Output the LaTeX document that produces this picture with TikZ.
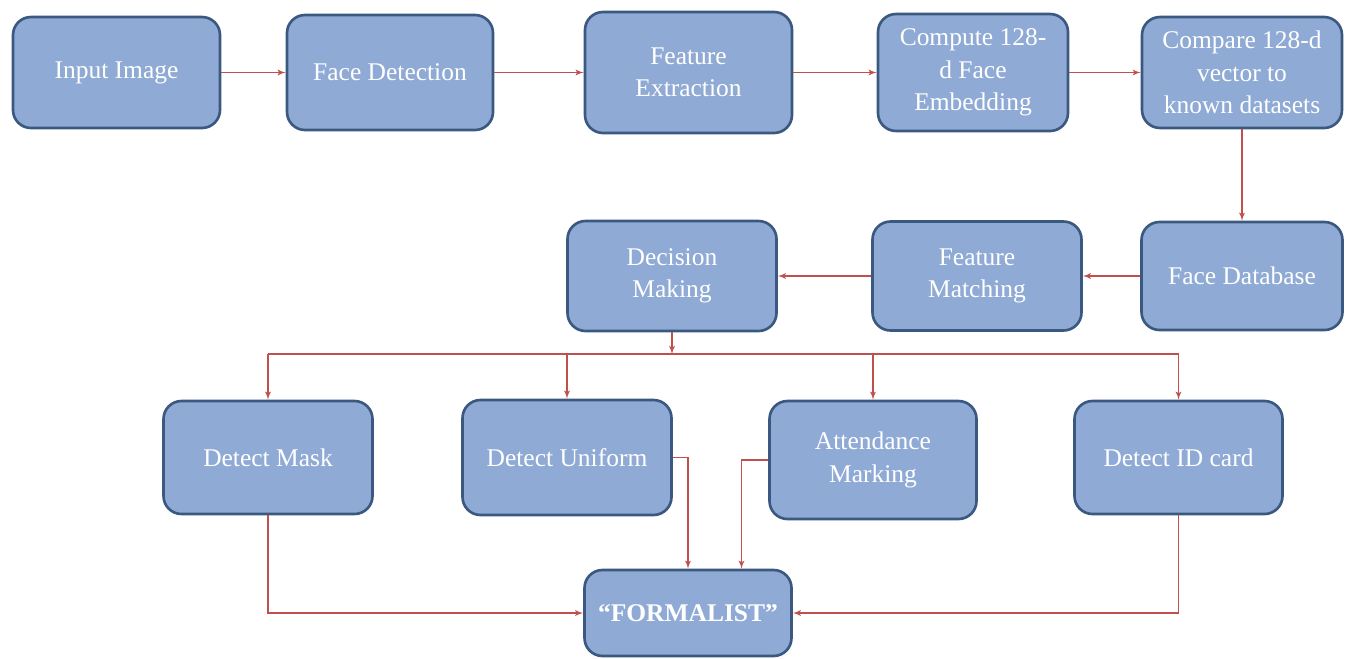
\documentclass[tikz,border=0pt]{standalone}
\usepackage{fontspec}
\setmainfont{Liberation Serif}
\usepackage{tikz}
\usetikzlibrary{shapes,arrows,calc}
\usetikzlibrary{positioning}
\definecolor{boxfill}{RGB}{143,170,212}
\definecolor{boxline}{RGB}{58,88,128}
\definecolor{flowred}{RGB}{192,80,77}

\begin{document}
\begin{tikzpicture}[auto, node distance=2cm,>=latex',font=\fontsize{14.5}{18.5}\selectfont]
\tikzset{block/.style = {draw=boxline, line width=1.5pt, fill=boxfill, rectangle,
  rounded corners=.36cm, text=white, align=center, inner sep=2pt}}
\tikzset{flow/.style = {draw=flowred, line width=.6pt, ->}}

  \useasboundingbox (-2.33,1.45) rectangle (24.63,-11.71);

  % top row
  \node[block, minimum width=4.14cm, minimum height=2.22cm] (input){Input Image};
  \node[block, minimum width=4.12cm, minimum height=2.3cm, node distance=5.47cm, right of=input]
    (facedet){Face Detection};
  \node[block, minimum width=4.14cm, minimum height=2.42cm, node distance=5.97cm, right of=facedet]
    (featext){Feature\\Extraction};
  \node[block, minimum width=3.8cm, minimum height=2.34cm, node distance=5.69cm, right of=featext]
    (embed){Compute 128-\\d Face\\Embedding};
  \node[block, minimum width=4.0cm, minimum height=2.22cm, node distance=5.38cm, right of=embed]
    (compare){Compare 128-d\\vector to\\known datasets};

  % middle row
  \node[block, minimum width=4.02cm, minimum height=2.16cm, node distance=4.07cm, below of=compare]
    (facedb){Face Database};
  \node[block, minimum width=4.18cm, minimum height=2.18cm, node distance=5.3cm, left of=facedb]
    (featmatch){Feature\\Matching};
  \node[block, minimum width=4.18cm, minimum height=2.2cm, node distance=6.1cm, left of=featmatch]
    (decision){Decision\\Making};

  % checks
  \node[block, minimum width=4.18cm, minimum height=2.3cm, node distance=3.63cm, below of=decision,
    xshift=-2.1cm] (uniform){Detect Uniform};
  \node[block, minimum width=4.18cm, minimum height=2.26cm, node distance=5.98cm, left of=uniform]
    (mask){Detect Mask};
  \node[block, minimum width=4.14cm, minimum height=2.36cm, node distance=6.12cm, right of=uniform,
    yshift=-.05cm] (attend){Attendance\\Marking};
  \node[block, minimum width=4.16cm, minimum height=2.26cm, node distance=12.23cm, right of=uniform]
    (idcard){Detect ID card};

  \node[block, minimum width=4.14cm, minimum height=1.72cm, node distance=6.74cm, below of=decision,
    xshift=.32cm] (formalist){\textbf{“FORMALIST”}};

  \coordinate[node distance=1.56cm, below of=decision] (bus);

  % connectors
  \draw[flow] (input.east) -- (facedet.west);
  \draw[flow] (facedet.east) -- (featext.west);
  \draw[flow] (featext.east) -- (embed.west);
  \draw[flow] (embed.east) -- (compare.west);
  \draw[flow] (compare.south) -- (facedb.north);
  \draw[flow] (facedb.west) -- (featmatch.east);
  \draw[flow] (featmatch.west) -- (decision.east);
  \draw[flow] (decision.south) -- (bus);
  \draw[draw=flowred, line width=.6pt] (bus -| mask) -- (bus -| idcard);
  \draw[flow] (bus -| mask) -- (mask.north);
  \draw[flow] (bus -| uniform) -- (uniform.north);
  \draw[flow] (bus -| attend) -- (attend.north);
  \draw[flow] (bus -| idcard) -- (idcard.north);

  \draw[flow] (mask.south) |- (formalist.west);
  \draw[flow] (uniform.east) -| (formalist.north);
  \draw[flow] (attend.west) -| ([xshift=1.07cm]formalist.north);
  \draw[flow] (idcard.south) |- (formalist.east);

\end{tikzpicture}
\end{document}
